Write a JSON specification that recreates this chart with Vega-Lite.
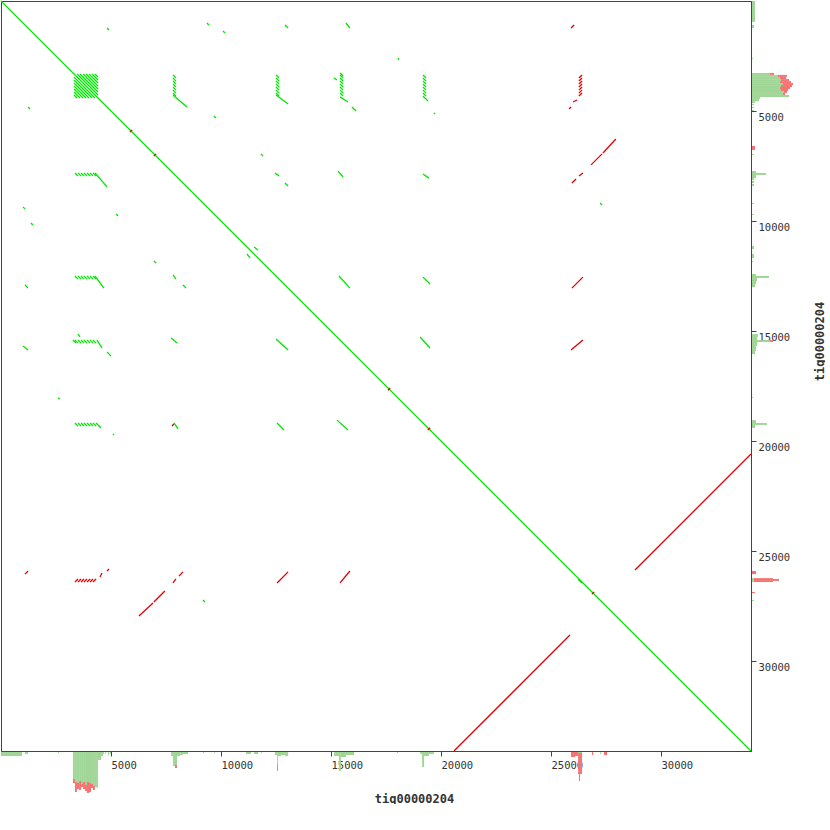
{
"$schema": "https://vega.github.io/schema/vega-lite/v6.json",
"width": 750, "height": 750, "padding": 0, "background": "white",
"config": {"view": {"stroke": "#444", "strokeWidth": 1}, "axis": {"grid": false}},
"datasets": {
"seg": [
{"x":0,"y":0,"x2":34090,"y2":34090,"s":"f"},
{"x":5860,"y":5960,"x2":5960,"y2":5860,"s":"r"},
{"x":6950,"y":7050,"x2":7050,"y2":6950,"s":"r"},
{"x":17590,"y":17690,"x2":17690,"y2":17590,"s":"r"},
{"x":19400,"y":19500,"x2":19500,"y2":19400,"s":"r"},
{"x":26860,"y":26960,"x2":26960,"y2":26860,"s":"r"},
{"x":26230,"y":26280,"x2":26410,"y2":26460,"s":"f"},
{"x":3320,"y":3460,"x2":4270,"y2":4410,"s":"f"},
{"x":3320,"y":3590,"x2":4140,"y2":4410,"s":"f"},
{"x":3320,"y":3730,"x2":4000,"y2":4410,"s":"f"},
{"x":3320,"y":3870,"x2":3870,"y2":4410,"s":"f"},
{"x":3320,"y":4000,"x2":3730,"y2":4410,"s":"f"},
{"x":3320,"y":4140,"x2":3590,"y2":4410,"s":"f"},
{"x":3320,"y":4270,"x2":3460,"y2":4410,"s":"f"},
{"x":3460,"y":3320,"x2":4410,"y2":4270,"s":"f"},
{"x":3590,"y":3320,"x2":4410,"y2":4140,"s":"f"},
{"x":3730,"y":3320,"x2":4410,"y2":4000,"s":"f"},
{"x":3870,"y":3320,"x2":4410,"y2":3870,"s":"f"},
{"x":4000,"y":3320,"x2":4410,"y2":3730,"s":"f"},
{"x":4140,"y":3320,"x2":4410,"y2":3590,"s":"f"},
{"x":4270,"y":3320,"x2":4410,"y2":3460,"s":"f"},
{"x":7820,"y":3360,"x2":7950,"y2":3500,"s":"f"},
{"x":7820,"y":3500,"x2":7950,"y2":3640,"s":"f"},
{"x":7820,"y":3640,"x2":7950,"y2":3770,"s":"f"},
{"x":7820,"y":3770,"x2":7950,"y2":3910,"s":"f"},
{"x":7820,"y":3910,"x2":7950,"y2":4050,"s":"f"},
{"x":7820,"y":4050,"x2":7950,"y2":4180,"s":"f"},
{"x":7820,"y":4180,"x2":7950,"y2":4320,"s":"f"},
{"x":3360,"y":7820,"x2":3500,"y2":7950,"s":"f"},
{"x":3500,"y":7820,"x2":3640,"y2":7950,"s":"f"},
{"x":3640,"y":7820,"x2":3770,"y2":7950,"s":"f"},
{"x":3770,"y":7820,"x2":3910,"y2":7950,"s":"f"},
{"x":3910,"y":7820,"x2":4050,"y2":7950,"s":"f"},
{"x":4050,"y":7820,"x2":4180,"y2":7950,"s":"f"},
{"x":4180,"y":7820,"x2":4320,"y2":7950,"s":"f"},
{"x":12500,"y":3360,"x2":12640,"y2":3500,"s":"f"},
{"x":12500,"y":3500,"x2":12640,"y2":3640,"s":"f"},
{"x":12500,"y":3640,"x2":12640,"y2":3770,"s":"f"},
{"x":12500,"y":3770,"x2":12640,"y2":3910,"s":"f"},
{"x":12500,"y":3910,"x2":12640,"y2":4050,"s":"f"},
{"x":12500,"y":4050,"x2":12640,"y2":4180,"s":"f"},
{"x":12500,"y":4180,"x2":12640,"y2":4320,"s":"f"},
{"x":3360,"y":12500,"x2":3500,"y2":12640,"s":"f"},
{"x":3500,"y":12500,"x2":3640,"y2":12640,"s":"f"},
{"x":3640,"y":12500,"x2":3770,"y2":12640,"s":"f"},
{"x":3770,"y":12500,"x2":3910,"y2":12640,"s":"f"},
{"x":3910,"y":12500,"x2":4050,"y2":12640,"s":"f"},
{"x":4050,"y":12500,"x2":4180,"y2":12640,"s":"f"},
{"x":4180,"y":12500,"x2":4320,"y2":12640,"s":"f"},
{"x":15410,"y":3270,"x2":15550,"y2":3410,"s":"f"},
{"x":15410,"y":3360,"x2":15550,"y2":3500,"s":"f"},
{"x":15410,"y":3500,"x2":15550,"y2":3640,"s":"f"},
{"x":15410,"y":3640,"x2":15550,"y2":3770,"s":"f"},
{"x":15410,"y":3770,"x2":15550,"y2":3910,"s":"f"},
{"x":15410,"y":3910,"x2":15550,"y2":4050,"s":"f"},
{"x":15410,"y":4050,"x2":15550,"y2":4180,"s":"f"},
{"x":15410,"y":4180,"x2":15550,"y2":4320,"s":"f"},
{"x":3270,"y":15410,"x2":3410,"y2":15550,"s":"f"},
{"x":3360,"y":15410,"x2":3500,"y2":15550,"s":"f"},
{"x":3500,"y":15410,"x2":3640,"y2":15550,"s":"f"},
{"x":3640,"y":15410,"x2":3770,"y2":15550,"s":"f"},
{"x":3770,"y":15410,"x2":3910,"y2":15550,"s":"f"},
{"x":3910,"y":15410,"x2":4050,"y2":15550,"s":"f"},
{"x":4050,"y":15410,"x2":4180,"y2":15550,"s":"f"},
{"x":4180,"y":15410,"x2":4320,"y2":15550,"s":"f"},
{"x":19180,"y":3360,"x2":19320,"y2":3500,"s":"f"},
{"x":19180,"y":3500,"x2":19320,"y2":3640,"s":"f"},
{"x":19180,"y":3640,"x2":19320,"y2":3770,"s":"f"},
{"x":19180,"y":3770,"x2":19320,"y2":3910,"s":"f"},
{"x":19180,"y":3910,"x2":19320,"y2":4050,"s":"f"},
{"x":19180,"y":4050,"x2":19320,"y2":4180,"s":"f"},
{"x":19180,"y":4180,"x2":19320,"y2":4320,"s":"f"},
{"x":3360,"y":19180,"x2":3500,"y2":19320,"s":"f"},
{"x":3500,"y":19180,"x2":3640,"y2":19320,"s":"f"},
{"x":3640,"y":19180,"x2":3770,"y2":19320,"s":"f"},
{"x":3770,"y":19180,"x2":3910,"y2":19320,"s":"f"},
{"x":3910,"y":19180,"x2":4050,"y2":19320,"s":"f"},
{"x":4050,"y":19180,"x2":4180,"y2":19320,"s":"f"},
{"x":4180,"y":19180,"x2":4320,"y2":19320,"s":"f"},
{"x":26270,"y":3500,"x2":26410,"y2":3360,"s":"r"},
{"x":26270,"y":3640,"x2":26410,"y2":3500,"s":"r"},
{"x":26270,"y":3770,"x2":26410,"y2":3640,"s":"r"},
{"x":26270,"y":3910,"x2":26410,"y2":3770,"s":"r"},
{"x":26270,"y":4050,"x2":26410,"y2":3910,"s":"r"},
{"x":26270,"y":4180,"x2":26410,"y2":4050,"s":"r"},
{"x":26270,"y":4320,"x2":26410,"y2":4180,"s":"r"},
{"x":3360,"y":26410,"x2":3500,"y2":26270,"s":"r"},
{"x":3500,"y":26410,"x2":3640,"y2":26270,"s":"r"},
{"x":3640,"y":26410,"x2":3770,"y2":26270,"s":"r"},
{"x":3770,"y":26410,"x2":3910,"y2":26270,"s":"r"},
{"x":3910,"y":26410,"x2":4050,"y2":26270,"s":"r"},
{"x":4050,"y":26410,"x2":4180,"y2":26270,"s":"r"},
{"x":4180,"y":26410,"x2":4320,"y2":26270,"s":"r"},
{"x":4820,"y":1230,"x2":4910,"y2":1320,"s":"f"},
{"x":1230,"y":4820,"x2":1320,"y2":4910,"s":"f"},
{"x":9360,"y":1000,"x2":9450,"y2":1090,"s":"f"},
{"x":1000,"y":9360,"x2":1090,"y2":9450,"s":"f"},
{"x":10090,"y":1360,"x2":10180,"y2":1450,"s":"f"},
{"x":1360,"y":10090,"x2":1450,"y2":10180,"s":"f"},
{"x":12910,"y":1090,"x2":13050,"y2":1230,"s":"f"},
{"x":1090,"y":12910,"x2":1230,"y2":13050,"s":"f"},
{"x":15680,"y":1000,"x2":15860,"y2":1230,"s":"f"},
{"x":1000,"y":15680,"x2":1230,"y2":15860,"s":"f"},
{"x":18040,"y":2590,"x2":18090,"y2":2680,"s":"f"},
{"x":2590,"y":18040,"x2":2680,"y2":18090,"s":"f"},
{"x":11820,"y":6950,"x2":11910,"y2":7050,"s":"f"},
{"x":6950,"y":11820,"x2":7050,"y2":11910,"s":"f"},
{"x":9680,"y":5230,"x2":9770,"y2":5320,"s":"f"},
{"x":5230,"y":9680,"x2":5320,"y2":9770,"s":"f"},
{"x":7820,"y":4270,"x2":8450,"y2":4820,"s":"f"},
{"x":4270,"y":7820,"x2":4820,"y2":8450,"s":"f"},
{"x":12500,"y":4270,"x2":13050,"y2":4680,"s":"f"},
{"x":4270,"y":12500,"x2":4680,"y2":13050,"s":"f"},
{"x":15140,"y":3500,"x2":15270,"y2":3590,"s":"f"},
{"x":3500,"y":15140,"x2":3590,"y2":15270,"s":"f"},
{"x":15410,"y":4360,"x2":15770,"y2":4590,"s":"f"},
{"x":4360,"y":15410,"x2":4590,"y2":15770,"s":"f"},
{"x":15950,"y":4820,"x2":16140,"y2":5000,"s":"f"},
{"x":4820,"y":15950,"x2":5000,"y2":16140,"s":"f"},
{"x":19180,"y":4320,"x2":19410,"y2":4550,"s":"f"},
{"x":4320,"y":19180,"x2":4550,"y2":19410,"s":"f"},
{"x":19680,"y":5090,"x2":19730,"y2":5140,"s":"f"},
{"x":5090,"y":19680,"x2":5140,"y2":19730,"s":"f"},
{"x":25910,"y":1230,"x2":26050,"y2":1090,"s":"r"},
{"x":1090,"y":26050,"x2":1230,"y2":25910,"s":"r"},
{"x":26000,"y":4590,"x2":26180,"y2":4500,"s":"r"},
{"x":4590,"y":26000,"x2":4500,"y2":26180,"s":"r"},
{"x":25820,"y":4910,"x2":25910,"y2":4820,"s":"r"},
{"x":4910,"y":25820,"x2":4820,"y2":25910,"s":"r"},
{"x":12450,"y":7820,"x2":12640,"y2":7950,"s":"f"},
{"x":7820,"y":12450,"x2":7950,"y2":12640,"s":"f"},
{"x":12910,"y":8270,"x2":13050,"y2":8410,"s":"f"},
{"x":8270,"y":12910,"x2":8410,"y2":13050,"s":"f"},
{"x":15320,"y":7730,"x2":15550,"y2":8000,"s":"f"},
{"x":7730,"y":15320,"x2":8000,"y2":15550,"s":"f"},
{"x":19180,"y":7860,"x2":19450,"y2":8050,"s":"f"},
{"x":7860,"y":19180,"x2":8050,"y2":19450,"s":"f"},
{"x":7770,"y":19320,"x2":7860,"y2":19230,"s":"r"},
{"x":25950,"y":8270,"x2":26140,"y2":8090,"s":"r"},
{"x":8270,"y":25950,"x2":8090,"y2":26140,"s":"r"},
{"x":26270,"y":7950,"x2":26450,"y2":7820,"s":"r"},
{"x":7950,"y":26270,"x2":7820,"y2":26450,"s":"r"},
{"x":26820,"y":7450,"x2":27320,"y2":6950,"s":"r"},
{"x":7450,"y":26820,"x2":6950,"y2":27320,"s":"r"},
{"x":27360,"y":6910,"x2":27950,"y2":6270,"s":"r"},
{"x":6910,"y":27360,"x2":6270,"y2":27950,"s":"r"},
{"x":27230,"y":9180,"x2":27320,"y2":9270,"s":"f"},
{"x":9180,"y":27230,"x2":9270,"y2":27320,"s":"f"},
{"x":11500,"y":11180,"x2":11680,"y2":11320,"s":"f"},
{"x":11180,"y":11500,"x2":11320,"y2":11680,"s":"f"},
{"x":15360,"y":12500,"x2":15860,"y2":13050,"s":"f"},
{"x":12500,"y":15360,"x2":13050,"y2":15860,"s":"f"},
{"x":19180,"y":12550,"x2":19500,"y2":12860,"s":"f"},
{"x":12550,"y":19180,"x2":12860,"y2":19500,"s":"f"},
{"x":25950,"y":13050,"x2":26450,"y2":12550,"s":"r"},
{"x":13050,"y":25950,"x2":12550,"y2":26450,"s":"r"},
{"x":19050,"y":15270,"x2":19500,"y2":15770,"s":"f"},
{"x":15270,"y":19050,"x2":15770,"y2":19500,"s":"f"},
{"x":25910,"y":15860,"x2":26450,"y2":15410,"s":"r"},
{"x":15860,"y":25910,"x2":15410,"y2":26450,"s":"r"},
{"x":20590,"y":34090,"x2":25860,"y2":28820,"s":"r"},
{"x":28820,"y":25860,"x2":34090,"y2":20590,"s":"r"}
],
"hb": [
{"s":0,"e":950,"g":4,"t":4},
{"s":1090,"e":1230,"g":2,"t":2},
{"s":2590,"e":2640,"g":1,"t":1},
{"s":3270,"e":3360,"g":27,"t":31},
{"s":3360,"e":3450,"g":30,"t":40},
{"s":3450,"e":3550,"g":31,"t":37},
{"s":3550,"e":3640,"g":29,"t":38},
{"s":3640,"e":3730,"g":32,"t":35},
{"s":3730,"e":3820,"g":30,"t":37},
{"s":3820,"e":3910,"g":33,"t":39},
{"s":3910,"e":4000,"g":30,"t":41},
{"s":4000,"e":4090,"g":31,"t":40},
{"s":4090,"e":4180,"g":32,"t":36},
{"s":4180,"e":4270,"g":34,"t":38},
{"s":4270,"e":4360,"g":35,"t":35},
{"s":4360,"e":4410,"g":36,"t":36},
{"s":4410,"e":4550,"g":8,"t":8},
{"s":4550,"e":4640,"g":4,"t":4},
{"s":4640,"e":4680,"g":2,"t":2},
{"s":4730,"e":4770,"g":2,"t":2},
{"s":4860,"e":4910,"g":3,"t":3},
{"s":4950,"e":5000,"g":2,"t":2},
{"s":7730,"e":7820,"g":4,"t":4},
{"s":7820,"e":7910,"g":14,"t":14},
{"s":7910,"e":8000,"g":13,"t":16},
{"s":8000,"e":8140,"g":4,"t":4},
{"s":8140,"e":8270,"g":3,"t":3},
{"s":8270,"e":8500,"g":2,"t":2},
{"s":9180,"e":9230,"g":1,"t":1},
{"s":9680,"e":9730,"g":1,"t":1},
{"s":11140,"e":11360,"g":2,"t":2},
{"s":11500,"e":11680,"g":2,"t":2},
{"s":11820,"e":11860,"g":1,"t":1},
{"s":12450,"e":12550,"g":3,"t":3},
{"s":12550,"e":12590,"g":12,"t":19},
{"s":12590,"e":12730,"g":4,"t":4},
{"s":12730,"e":12910,"g":3,"t":3},
{"s":12910,"e":13050,"g":4,"t":4},
{"s":15140,"e":15360,"g":4,"t":4},
{"s":15360,"e":15450,"g":19,"t":19},
{"s":15450,"e":15680,"g":5,"t":5},
{"s":15680,"e":16050,"g":3,"t":3},
{"s":18000,"e":18050,"g":1,"t":1},
{"s":19050,"e":19140,"g":2,"t":2},
{"s":19140,"e":19230,"g":15,"t":15},
{"s":19230,"e":19450,"g":4,"t":4},
{"s":19450,"e":19680,"g":2,"t":2},
{"s":25910,"e":26090,"g":0,"t":5},
{"s":26090,"e":26230,"g":0,"t":4},
{"s":26230,"e":26270,"g":1,"t":22},
{"s":26270,"e":26320,"g":1,"t":29},
{"s":26320,"e":26410,"g":1,"t":22},
{"s":26860,"e":26910,"g":0,"t":3},
{"s":27230,"e":27270,"g":2,"t":2},
{"s":27410,"e":27550,"g":0,"t":3}
],
"hr": [
{"s":0,"e":950,"g":3,"t":3},
{"s":1090,"e":1230,"g":2,"t":2},
{"s":2590,"e":2640,"g":1,"t":1},
{"s":3270,"e":3360,"g":18,"t":22},
{"s":3360,"e":3450,"g":26,"t":35},
{"s":3450,"e":3550,"g":28,"t":34},
{"s":3550,"e":3640,"g":29,"t":37},
{"s":3640,"e":3730,"g":28,"t":39},
{"s":3730,"e":3820,"g":31,"t":41},
{"s":3820,"e":3910,"g":29,"t":40},
{"s":3910,"e":4000,"g":28,"t":38},
{"s":4000,"e":4090,"g":29,"t":36},
{"s":4090,"e":4180,"g":32,"t":35},
{"s":4180,"e":4270,"g":31,"t":33},
{"s":4270,"e":4360,"g":37,"t":37},
{"s":4360,"e":4450,"g":8,"t":8},
{"s":4450,"e":4550,"g":7,"t":7},
{"s":4550,"e":4640,"g":3,"t":3},
{"s":4680,"e":4730,"g":2,"t":2},
{"s":4820,"e":4860,"g":2,"t":2},
{"s":4950,"e":5000,"g":2,"t":2},
{"s":6590,"e":6770,"g":0,"t":3},
{"s":6950,"e":7000,"g":2,"t":2},
{"s":7730,"e":7820,"g":4,"t":4},
{"s":7820,"e":7910,"g":14,"t":14},
{"s":7910,"e":8050,"g":4,"t":4},
{"s":8050,"e":8140,"g":2,"t":2},
{"s":8180,"e":8270,"g":2,"t":2},
{"s":8320,"e":8410,"g":2,"t":2},
{"s":9180,"e":9230,"g":2,"t":2},
{"s":9680,"e":9730,"g":2,"t":2},
{"s":11140,"e":11270,"g":2,"t":2},
{"s":11500,"e":11680,"g":2,"t":2},
{"s":11820,"e":11860,"g":1,"t":1},
{"s":12410,"e":12500,"g":4,"t":4},
{"s":12500,"e":12590,"g":17,"t":17},
{"s":12590,"e":12730,"g":5,"t":5},
{"s":12730,"e":12860,"g":4,"t":4},
{"s":12860,"e":13000,"g":3,"t":3},
{"s":15140,"e":15270,"g":6,"t":6},
{"s":15270,"e":15410,"g":5,"t":5},
{"s":15410,"e":15500,"g":18,"t":21},
{"s":15500,"e":15680,"g":5,"t":5},
{"s":15680,"e":15910,"g":4,"t":4},
{"s":15910,"e":16050,"g":3,"t":3},
{"s":18000,"e":18050,"g":1,"t":1},
{"s":19050,"e":19180,"g":4,"t":4},
{"s":19180,"e":19270,"g":15,"t":15},
{"s":19270,"e":19410,"g":3,"t":3},
{"s":25910,"e":26050,"g":0,"t":4},
{"s":26230,"e":26270,"g":2,"t":21},
{"s":26270,"e":26360,"g":2,"t":27},
{"s":26360,"e":26410,"g":2,"t":21},
{"s":26860,"e":26910,"g":0,"t":3},
{"s":27230,"e":27270,"g":2,"t":2}
]
},
"resolve": {"scale": {"x": "independent", "y": "independent", "color": "independent"}},
"layer": [
{"data": {"name": "hb"}, "mark": {"type": "rect", "color": "#a0d796"},
 "encoding": {
  "x": {"field": "s", "type": "quantitative", "scale": {"domain": [0, 34090], "nice": false, "zero": false}, "axis": null},
  "x2": {"field": "e"},
  "y": {"field": "g", "type": "quantitative", "scale": {"domain": [0, 42], "range": [751, 793], "nice": false}, "axis": null},
  "y2": {"datum": 0}}},
{"data": {"name": "hb"}, "mark": {"type": "rect", "color": "#f77373"},
 "encoding": {
  "x": {"field": "s", "type": "quantitative", "scale": {"domain": [0, 34090], "nice": false, "zero": false}, "axis": null},
  "x2": {"field": "e"},
  "y": {"field": "t", "type": "quantitative", "scale": {"domain": [0, 42], "range": [751, 793], "nice": false}, "axis": null},
  "y2": {"field": "g"}}},
{"data": {"name": "hr"}, "mark": {"type": "rect", "color": "#a0d796"},
 "encoding": {
  "y": {"field": "s", "type": "quantitative", "scale": {"domain": [0, 34090], "nice": false, "zero": false, "reverse": true}, "axis": null},
  "y2": {"field": "e"},
  "x": {"field": "g", "type": "quantitative", "scale": {"domain": [0, 42], "range": [751, 793], "nice": false}, "axis": null},
  "x2": {"datum": 0}}},
{"data": {"name": "hr"}, "mark": {"type": "rect", "color": "#f77373"},
 "encoding": {
  "y": {"field": "s", "type": "quantitative", "scale": {"domain": [0, 34090], "nice": false, "zero": false, "reverse": true}, "axis": null},
  "y2": {"field": "e"},
  "x": {"field": "t", "type": "quantitative", "scale": {"domain": [0, 42], "range": [751, 793], "nice": false}, "axis": null},
  "x2": {"field": "g"}}},
{"data": {"name": "seg"}, "mark": {"type": "rule", "strokeWidth": 1.3},
 "encoding": {
  "x": {"field": "x", "type": "quantitative", "scale": {"domain": [0, 34090], "nice": false, "zero": false},
   "axis": {"orient": "bottom", "values": [5000, 10000, 15000, 20000, 25000, 30000], "format": "d", "title": "tig00000204",
    "labelAlign": "left", "labelBaseline": "top", "labelPadding": 4, "tickSize": 5, "tickColor": "#444", "domainColor": "#444",
    "labelFont": "DejaVu Sans Mono", "labelFontSize": 10.5, "labelColor": "#333", "labelFlush": false, "labelOverlap": false,
    "titleFont": "DejaVu Sans Mono", "titleFontSize": 12, "titleFontWeight": "bold", "titleColor": "#333",
    "titleX": 413, "titleY": 47, "titleAlign": "center", "titleBaseline": "middle"}},
  "y": {"field": "y", "type": "quantitative", "scale": {"domain": [0, 34090], "nice": false, "zero": false, "reverse": true},
   "axis": {"orient": "right", "values": [5000, 10000, 15000, 20000, 25000, 30000], "format": "d", "title": "tig00000204",
    "labelAlign": "left", "labelBaseline": "top", "labelPadding": 2, "labelOffset": 1, "tickSize": 5, "tickColor": "#444", "domainColor": "#444",
    "labelFont": "DejaVu Sans Mono", "labelFontSize": 10.5, "labelColor": "#333", "labelFlush": false, "labelOverlap": false,
    "titleFont": "DejaVu Sans Mono", "titleFontSize": 12, "titleFontWeight": "bold", "titleColor": "#333",
    "titleX": 68, "titleY": 340, "titleAngle": 270, "titleAlign": "center", "titleBaseline": "middle"}},
  "x2": {"field": "x2"},
  "y2": {"field": "y2"},
  "color": {"field": "s", "type": "nominal", "scale": {"domain": ["f", "r"], "range": ["#00e600", "#e60000"]}, "legend": null}}}
]
}
